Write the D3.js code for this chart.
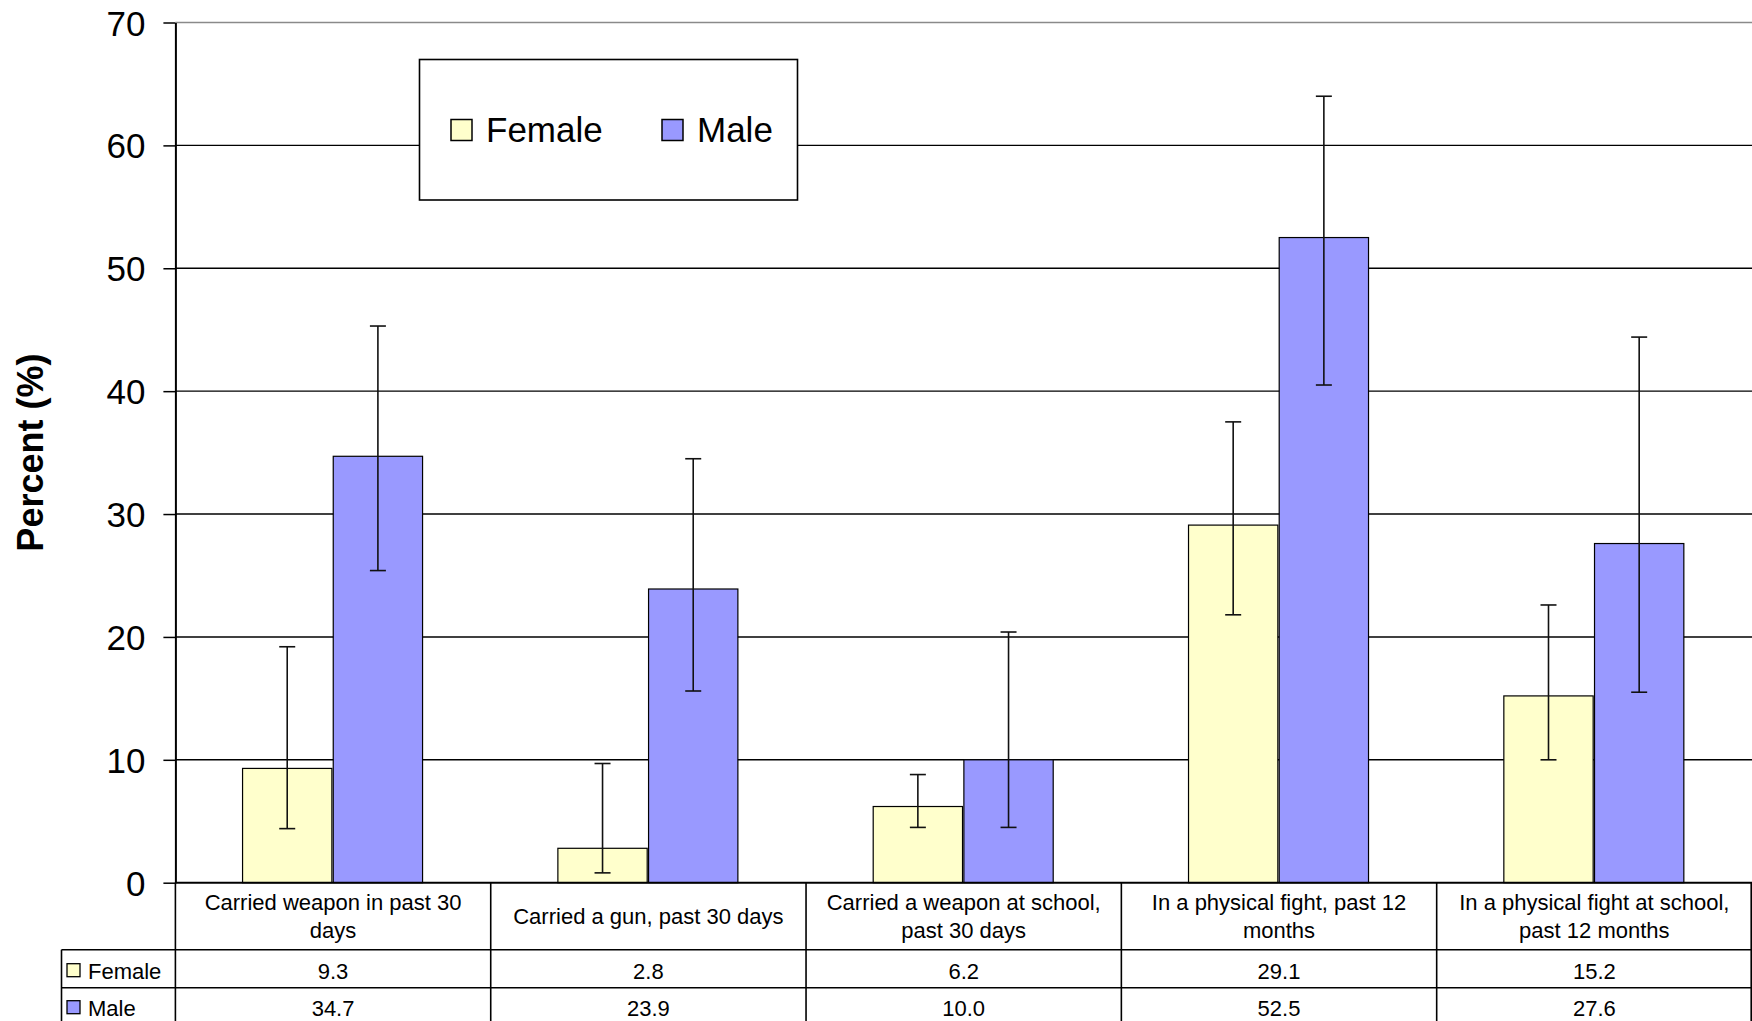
<!DOCTYPE html>
<html>
<head>
<meta charset="utf-8">
<script src="https://cdn.jsdelivr.net/npm/d3@7"></script>
<style>
  html, body { margin: 0; padding: 0; background: #fff; }
  svg { display: block; }
  text { font-family: "Liberation Sans", Arial, sans-serif; fill: #000; }
</style>
</head>
<body>
<svg id="chart" width="1752" height="1021"></svg>
<script>
// ---- data ----
const categories = [
  "Carried weapon in past 30 days",
  "Carried a gun, past 30 days",
  "Carried a weapon at school, past 30 days",
  "In a physical fight, past 12 months",
  "In a physical fight at school, past 12 months"
];
const categoryLines = [
  ["Carried weapon in past 30", "days"],
  ["Carried a gun, past 30 days"],
  ["Carried a weapon at school,", "past 30 days"],
  ["In a physical fight, past 12", "months"],
  ["In a physical fight at school,", "past 12 months"]
];
const seriesNames = ["Female", "Male"];
const seriesColors = ["#FFFFCC", "#9999FF"];
const female = [9.3, 2.8, 6.2, 29.1, 15.2];
const male = [34.7, 23.9, 10.0, 52.5, 27.6];
const femaleLow = [4.4, 0.8, 4.5, 21.8, 10.0];
const femaleHigh = [19.2, 9.7, 8.8, 37.5, 22.6];
const maleLow = [25.4, 15.6, 4.5, 40.5, 15.5];
const maleHigh = [45.3, 34.5, 20.4, 64.0, 44.4];
const yTicks = [0, 10, 20, 30, 40, 50, 60, 70];
const yTitle = "Percent (%)";

// ---- layout ----
const svg = d3.select("#chart");
const plotLeft = 175.4, plotRight = 1752, plotTop = 22.5, plotBottom = 882.7;
const FONT = '"Liberation Sans", Arial, sans-serif';

const x0 = d3.scaleBand().domain(categories).range([plotLeft, plotRight]).padding(0);
const x1 = d3.scaleBand().domain(seriesNames).range([-90.5, 89.5]).paddingInner(0.015);
const y = d3.scaleLinear().domain([0, 70]).range([plotBottom, plotTop]);

const values = [female, male];
const lows = [femaleLow, maleLow];
const highs = [femaleHigh, maleHigh];

// gridlines
svg.append("g").selectAll("line").data(yTicks.filter(d => d > 0)).join("line")
  .attr("x1", plotLeft).attr("x2", plotRight)
  .attr("y1", d => y(d)).attr("y2", d => y(d))
  .attr("stroke", d => d === 70 ? "#8a8a8a" : "#000")
  .attr("stroke-width", 1.4);

// legend (drawn over gridline at 60)
const lg = svg.append("g");
lg.append("rect").attr("x", 419.5).attr("y", 59.5).attr("width", 378).attr("height", 140.5)
  .attr("fill", "#fff").attr("stroke", "#000").attr("stroke-width", 1.6);
const legendX = [451, 662];
seriesNames.forEach((s, i) => {
  lg.append("rect").attr("x", legendX[i]).attr("y", 119.5).attr("width", 21).attr("height", 21)
    .attr("fill", seriesColors[i]).attr("stroke", "#000").attr("stroke-width", 1.5);
  lg.append("text").attr("x", legendX[i] + 35).attr("y", 142)
    .attr("font-size", 35).text(s);
});

// bars
const barData = [];
categories.forEach((c, ci) => {
  seriesNames.forEach((s, si) => {
    barData.push({ c, s, si, v: values[si][ci], lo: lows[si][ci], hi: highs[si][ci] });
  });
});
const cx = c => x0(c) + x0.bandwidth() / 2;

svg.append("g").selectAll("rect").data(barData).join("rect")
  .attr("x", d => cx(d.c) + x1(d.s))
  .attr("y", d => y(d.v))
  .attr("width", x1.bandwidth())
  .attr("height", d => y(0) - y(d.v))
  .attr("fill", d => seriesColors[d.si])
  .attr("stroke", "#000").attr("stroke-width", 1.2);

// error bars
const eb = svg.append("g").attr("stroke", "#111").attr("stroke-width", 1.6);
barData.forEach(d => {
  const xm = cx(d.c) + x1(d.s) + x1.bandwidth() / 2;
  eb.append("line").attr("x1", xm).attr("x2", xm).attr("y1", y(d.hi)).attr("y2", y(d.lo));
  eb.append("line").attr("x1", xm - 8).attr("x2", xm + 8).attr("y1", y(d.hi)).attr("y2", y(d.hi));
  eb.append("line").attr("x1", xm - 8).attr("x2", xm + 8).attr("y1", y(d.lo)).attr("y2", y(d.lo));
});

// y axis
const yAxis = d3.axisLeft(y).tickValues(yTicks).tickSize(12).tickSizeOuter(0).tickPadding(18);
const ya = svg.append("g").attr("transform", `translate(${plotLeft},0)`).call(yAxis);
ya.select(".domain").attr("stroke", "#000").attr("stroke-width", 2);
ya.selectAll(".tick line").attr("stroke", "#000").attr("stroke-width", 1.5);
ya.selectAll(".tick text").attr("font-size", 35).attr("font-family", FONT).attr("fill", "#000").attr("dy", "0.36em");

// y title
svg.append("text")
  .attr("transform", `translate(43,${(plotTop + plotBottom) / 2}) rotate(-90)`)
  .attr("text-anchor", "middle").attr("font-size", 36).attr("font-weight", "bold")
  .text(yTitle);

// ---- data table ----
const tb = svg.append("g");
const headerTop = plotBottom, headerBottom = 949.7, row1Bottom = 987.7, row2Bottom = 1025.7;
const labelLeft = 61.5;
const tStroke = "#000", tW = 1.6;
// horizontal lines
tb.append("line").attr("x1", plotLeft).attr("x2", plotRight).attr("y1", headerTop).attr("y2", headerTop)
  .attr("stroke", tStroke).attr("stroke-width", 2);
[headerBottom, row1Bottom, row2Bottom].forEach(yy => {
  tb.append("line").attr("x1", labelLeft).attr("x2", plotRight).attr("y1", yy).attr("y2", yy)
    .attr("stroke", tStroke).attr("stroke-width", tW);
});
// vertical lines
categories.forEach(c => {
  tb.append("line").attr("x1", x0(c)).attr("x2", x0(c)).attr("y1", headerTop).attr("y2", row2Bottom)
    .attr("stroke", tStroke).attr("stroke-width", tW);
});
tb.append("line").attr("x1", plotRight - 0.8).attr("x2", plotRight - 0.8).attr("y1", headerTop).attr("y2", row2Bottom)
  .attr("stroke", tStroke).attr("stroke-width", tW);
tb.append("line").attr("x1", labelLeft).attr("x2", labelLeft).attr("y1", headerBottom).attr("y2", row2Bottom)
  .attr("stroke", tStroke).attr("stroke-width", tW);

// header labels
categories.forEach((c, ci) => {
  const lines = categoryLines[ci];
  const mid = (headerTop + headerBottom) / 2;
  const lh = 28;
  lines.forEach((ln, li) => {
    const yy = mid + (li - (lines.length - 1) / 2) * lh + 8;
    tb.append("text").attr("x", cx(c)).attr("y", yy).attr("text-anchor", "middle")
      .attr("font-size", 22).text(ln);
  });
});

// rows
const rowMids = [(headerBottom + row1Bottom) / 2 + 2, (row1Bottom + row2Bottom) / 2 + 1];
seriesNames.forEach((s, si) => {
  const ym = rowMids[si];
  tb.append("rect").attr("x", 67).attr("y", ym - 7).attr("width", 13).attr("height", 13)
    .attr("fill", seriesColors[si]).attr("stroke", "#000").attr("stroke-width", 1.3);
  tb.append("text").attr("x", 88).attr("y", ym + 8).attr("font-size", 22).text(s);
  categories.forEach((c, ci) => {
    tb.append("text").attr("x", cx(c)).attr("y", ym + 8).attr("text-anchor", "middle")
      .attr("font-size", 22).text(d3.format(".1f")(values[si][ci]));
  });
});
</script>
</body>
</html>
